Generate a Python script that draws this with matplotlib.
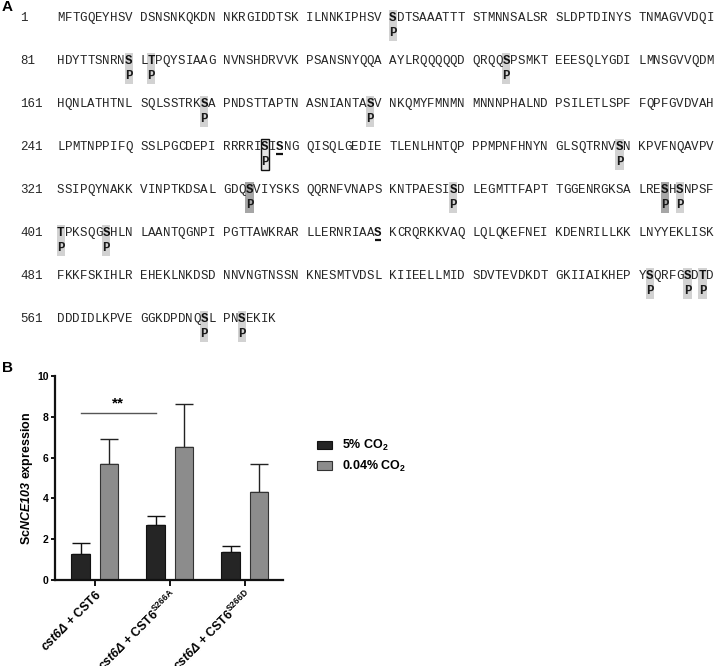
import matplotlib
matplotlib.use('Agg')
import matplotlib.pyplot as plt
from matplotlib.patches import Rectangle
import numpy as np

plt.rcParams['font.family'] = ['Liberation Sans', 'DejaVu Sans']
plt.rcParams['mathtext.fontset'] = 'custom'
plt.rcParams['mathtext.rm'] = 'Liberation Sans'
plt.rcParams['mathtext.it'] = 'Liberation Sans:italic'
plt.rcParams['mathtext.bf'] = 'Liberation Sans:bold'
plt.rcParams['mathtext.bfit'] = 'Liberation Sans:bold:italic'

# ---------------- Panel A data ----------------
seq_rows = [
    "MFTGQEYHSV DSNSNKQKDN NKRGIDDTSK ILNNKIPHSV SDTSAAATTT STMNNSALSR SLDPTDINYS TNMAGVVDQI",
    "HDYTTSNRNS LTPQYSIAAG NVNSHDRVVK PSANSNYQQA AYLRQQQQQD QRQQSPSMKT EEESQLYGDI LMNSGVVQDM",
    "HQNLATHTNL SQLSSTRKSA PNDSTTAPTN ASNIANTASV NKQMYFMNMN MNNNPHALND PSILETLSPF FQPFGVDVAH",
    "LPMTNPPIFQ SSLPGCDEPI RRRRISISNG QISQLGEDIE TLENLHNTQP PPMPNFHNYN GLSQTRNVSN KPVFNQAVPV",
    "SSIPQYNAKK VINPTKDSAL GDQSVIYSKS QQRNFVNAPS KNTPAESISD LEGMTTFAPT TGGENRGKSA LRESHSNPSF",
    "TPKSQGSHLN LAANTQGNPI PGTTAWKRAR LLERNRIAAS KCRQRKKVAQ LQLQKEFNEI KDENRILLKK LNYYEKLISK",
    "FKKFSKIHLR EHEKLNKDSD NNVNGTNSSN KNESMTVDSL KIIEELLMID SDVTEVDKDT GKIIAIKHEP YSQRFGSDTD",
    "DDDIDLKPVE GGKDPDNQSL PNSEKIK",
]
row_starts = [1, 81, 161, 241, 321, 401, 481, 561]
phospho_light = [41, 90, 92, 135, 179, 199, 309, 369, 396, 401, 407, 552, 557, 559, 579, 583]
phospho_dark = [344, 394]
boxed_site = [266]
underlined_sites = [268, 440]

# ---------------- Panel B data ----------------
strains = ["cst6Δ + CST6", "cst6Δ + CST6", "cst6Δ + CST6"]
superscripts = ["", "S266A", "S266D"]
high_co2 = [1.27, 2.72, 1.38]
high_co2_err = [0.52, 0.43, 0.31]
low_co2 = [5.68, 6.52, 4.33]
low_co2_err = [1.25, 2.11, 1.38]
series_labels = ["5% CO$_{\\mathbf{2}}$", "0.04% CO$_{\\mathbf{2}}$"]
sig_label = "**"
sig_level = 8.19

W, H = 720, 666
fig = plt.figure(figsize=(W / 100, H / 100), dpi=100)

# ---------------- Panel A ----------------
axA = fig.add_axes([0, 0, 1, 1])
axA.set_xlim(0, W)
axA.set_ylim(H, 0)
axA.axis('off')

mono = 'Liberation Mono'
fs_seq = 9.0
seq_x0 = 57.0
pitch = 7.55
row_y0, row_dy = 18, 43
p_dy = 15
txt_col = '#262626'

axA.text(2, 7, 'A', fontsize=11, fontweight='bold', ha='left', va='center',
         family='Liberation Sans')

for r, row in enumerate(seq_rows):
    y = row_y0 + r * row_dy
    axA.text(20, y, str(row_starts[r]), family=mono, fontsize=fs_seq, ha='left',
             va='center', color=txt_col)
    pos = row_starts[r] - 1
    for k, ch in enumerate(row):
        if ch == ' ':
            continue
        pos += 1
        x = seq_x0 + k * pitch
        special = (pos in phospho_light or pos in phospho_dark or
                   pos in boxed_site or pos in underlined_sites)
        if pos in phospho_light or pos in phospho_dark or pos in boxed_site:
            fc = '#a6a6a6' if pos in phospho_dark else '#d2d2d2'
            ec = 'none'
            lw = 0
            if pos in boxed_site:
                fc, ec, lw = '#e4e4e4', '#111111', 1.0
            axA.add_patch(Rectangle((x - 0.3, y - 8), pitch + 0.6, p_dy + 15.5,
                                    facecolor=fc, edgecolor=ec, linewidth=lw, zorder=1))
            axA.text(x + pitch / 2, y + p_dy, 'P', family=mono, fontsize=fs_seq,
                     fontweight='bold', ha='center', va='center', color='#1a1a1a', zorder=3)
        if pos in underlined_sites:
            axA.plot([x + 0.5, x + pitch - 0.5], [y + 7, y + 7], color='#111111',
                     lw=1.6, solid_capstyle='butt', zorder=3)
        axA.text(x + pitch / 2, y, ch, family=mono, fontsize=fs_seq,
                 fontweight='bold' if special else 'normal',
                 ha='center', va='center', color='#111111' if special else txt_col, zorder=3)

axA.text(2, 368, 'B', fontsize=11, fontweight='bold', ha='left', va='center',
         family='Liberation Sans')

# ---------------- Panel B ----------------
left, right, top, bottom = 55, 283, 376, 580
axB = fig.add_axes([left / W, 1 - bottom / H, (right - left) / W, (bottom - top) / H])
axB.patch.set_alpha(0)

xg = np.arange(len(strains))
bw = 0.253
off = 0.187
b1 = axB.bar(xg - off, high_co2, bw, color='#252525', edgecolor='#111111', lw=0.8,
             label=series_labels[0], zorder=2)
b2 = axB.bar(xg + off, low_co2, bw, color='#8c8c8c', edgecolor='#333333', lw=0.8,
             label=series_labels[1], zorder=2)
axB.errorbar(xg - off, high_co2, yerr=[np.zeros(3), high_co2_err], fmt='none',
             ecolor='#111111', elinewidth=1.0, capsize=6.5, capthick=1.0, zorder=1)
axB.errorbar(xg + off, low_co2, yerr=[np.zeros(3), low_co2_err], fmt='none',
             ecolor='#222222', elinewidth=1.0, capsize=6.5, capthick=1.0, zorder=1)

axB.set_ylim(0, 10)
axB.set_xlim(-0.533, 2.507)
axB.set_yticks([0, 2, 4, 6, 8, 10])
axB.set_xticks(xg)
for s in ['top', 'right']:
    axB.spines[s].set_visible(False)
for s in ['left', 'bottom']:
    axB.spines[s].set_linewidth(1.6)
    axB.spines[s].set_color('#111111')
axB.tick_params(axis='y', length=3, width=1.3, labelsize=7.5, pad=1.5)
axB.tick_params(axis='x', length=4, width=1.3, pad=2)
for lab in axB.get_yticklabels():
    lab.set_fontweight('bold')

xlabels = []
for s, sup in zip(strains, superscripts):
    base = s.replace("cst6Δ", "$\\mathbfit{cst6Δ}$")
    if sup:
        base += "$^{\\mathbf{" + sup + "}}$"
    xlabels.append(base)
axB.set_xticklabels(xlabels, rotation=45, ha='right', rotation_mode='anchor',
                    fontsize=8.8, fontweight='bold')

# significance bar
axB.plot([xg[0] - off, xg[1] - off], [sig_level, sig_level], color='#555555', lw=1.0)
axB.text((xg[0] + xg[1]) / 2 - off, sig_level + 0.1, sig_label, ha='center', va='bottom',
         fontsize=11, fontweight='bold')

fig.text(27 / W, 1 - 478 / H, "Sc$\\mathbfit{NCE103}$ expression", rotation=90,
         ha='center', va='center', fontsize=9, fontweight='bold')

leg = axB.legend(handles=[b1, b2], loc='upper left',
                 bbox_to_anchor=(311 / W, 1 - 432 / H), bbox_transform=fig.transFigure,
                 frameon=False, borderpad=0, handlelength=1.2, handleheight=0.65,
                 handletextpad=0.75, labelspacing=0.45,
                 prop={'weight': 'bold', 'size': 9})

fig.savefig('out.png', dpi=100)
